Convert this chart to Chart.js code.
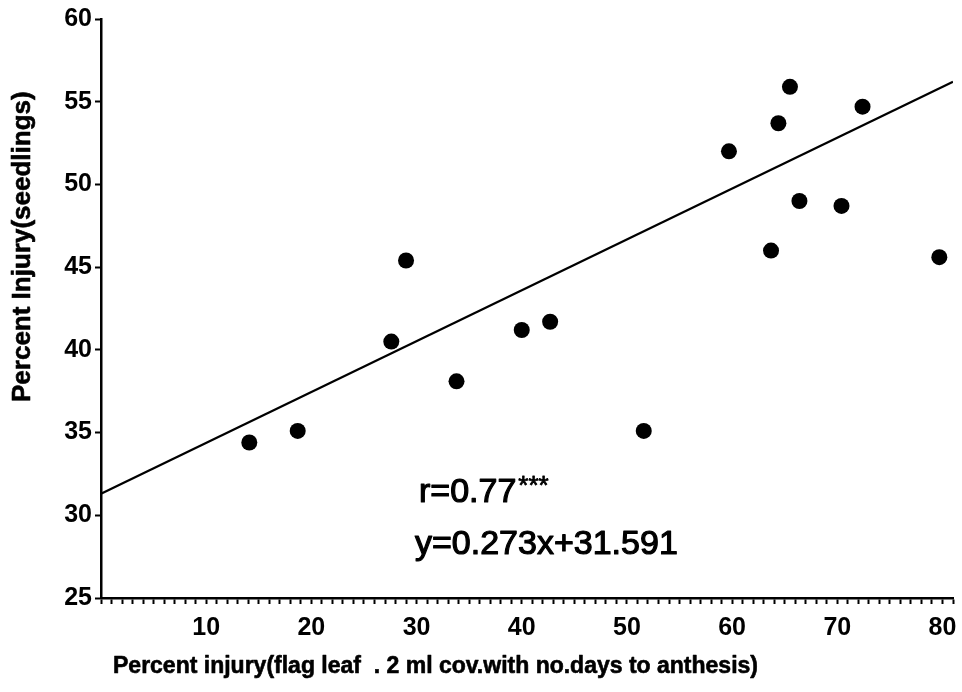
<!DOCTYPE html>
<html>
<head>
<meta charset="utf-8">
<title>Percent injury scatter</title>
<script src="https://cdn.jsdelivr.net/npm/chart.js@4.4.1/dist/chart.umd.min.js"></script>
<style>
  html, body { margin: 0; padding: 0; background: #fff; }
  canvas { display: block; }
</style>
</head>
<body>
<canvas id="injuryChart" width="962" height="692"></canvas>
<script>
// Percent injury: flag leaf (x) vs seedlings (y)
const flagLeafInjury = [14.1, 18.7, 27.6, 29.0, 33.8, 40.0, 42.7, 51.6, 59.7, 63.7, 64.4, 65.5, 66.4, 70.4, 72.4, 79.7];
const seedlingInjury = [34.4, 35.1, 40.5, 45.4, 38.1, 41.2, 41.7, 35.1, 52.0, 46.0, 53.7, 55.9, 49.0, 48.7, 54.7, 45.6];

// regression line as drawn in the figure
const fitLineX = [0, 81];
const fitLineY = [31.3, 56.2];

const xTickLabels = [10, 20, 30, 40, 50, 60, 70, 80];
const yTickLabels = [25, 30, 35, 40, 45, 50, 55, 60];

const xTitle = 'Percent injury(flag leaf  . 2 ml cov.with no.days to anthesis)';
const yTitle = 'Percent Injury(seedlings)';
const rText = 'r=0.77';
const rStars = '***';
const eqText = 'y=0.273x+31.591';

const FONT = '"Liberation Sans", Arial, Helvetica, sans-serif';

// slightly heavier text, like the scanned figure
function heavyText(c, str, x, y, w) {
  c.lineWidth = w;
  c.strokeText(str, x, y);
  c.fillText(str, x, y);
}

const textPlugin = {
  id: 'figureText',
  afterDraw(chart) {
    const c = chart.ctx;
    c.save();
    c.fillStyle = '#000';
    c.strokeStyle = '#000';
    c.lineJoin = 'round';

    // y axis title
    c.save();
    c.translate(30, 402);
    c.rotate(-Math.PI / 2);
    c.font = 'bold 26px ' + FONT;
    c.textAlign = 'left';
    c.textBaseline = 'alphabetic';
    heavyText(c, yTitle, 0, 0, 0.6);
    c.restore();

    // x axis title
    c.font = 'bold 23px ' + FONT;
    c.textAlign = 'left';
    c.textBaseline = 'alphabetic';
    heavyText(c, xTitle, 113, 673, 0.6);

    // correlation and equation
    c.font = '34px ' + FONT;
    heavyText(c, rText, 419, 502, 1.2);
    const rw = c.measureText(rText).width;
    c.font = '26px ' + FONT;
    heavyText(c, rStars, 419 + rw + 2, 494, 0.8);
    c.font = '34px ' + FONT;
    heavyText(c, eqText, 415, 554, 1.2);

    c.restore();
  }
};

function buildChart() {
  const ctx = document.getElementById('injuryChart');
  const points = flagLeafInjury.map((x, i) => ({ x, y: seedlingInjury[i] }));
  const fitLine = fitLineX.map((x, i) => ({ x, y: fitLineY[i] }));

  new Chart(ctx, {
    type: 'scatter',
    data: {
      datasets: [
        {
          type: 'line',
          data: fitLine,
          borderColor: '#000',
          borderWidth: 2.2,
          pointRadius: 0,
          fill: false,
          tension: 0,
        },
        {
          data: points,
          backgroundColor: '#000',
          borderColor: '#000',
          borderWidth: 0,
          pointRadius: 8,
          pointHoverRadius: 8,
        }
      ]
    },
    options: {
      responsive: false,
      animation: false,
      events: [],
      layout: { padding: { left: 0, top: 19, right: 7, bottom: 0 } },
      plugins: {
        legend: { display: false },
        tooltip: { enabled: false }
      },
      scales: {
        x: {
          type: 'linear',
          min: 0,
          max: 81,
          afterFit: (s) => { s.height = 94; },
          border: { color: '#000', width: 2.5 },
          grid: {
            drawOnChartArea: false,
            drawTicks: true,
            tickLength: 6,
            tickWidth: 2,
            color: '#000'
          },
          ticks: {
            stepSize: 1,
            autoSkip: false,
            maxRotation: 0,
            padding: 9,
            color: '#000',
            font: { family: FONT, size: 25, weight: 'bold' },
            callback: (val) => xTickLabels.includes(val) ? String(val) : ''
          }
        },
        y: {
          type: 'linear',
          min: 25,
          max: 60,
          afterFit: (s) => { s.width = 101; },
          border: { color: '#000', width: 2.5 },
          grid: {
            drawOnChartArea: false,
            drawTicks: true,
            tickLength: 6,
            tickWidth: 2,
            color: '#000'
          },
          ticks: {
            stepSize: 5,
            autoSkip: false,
            padding: 3,
            color: '#000',
            font: { family: FONT, size: 25, weight: 'bold' },
            callback: (val) => yTickLabels.includes(val) ? String(val) : ''
          }
        }
      }
    },
    plugins: [textPlugin]
  });
}

if (document.readyState === 'loading') {
  document.addEventListener('DOMContentLoaded', buildChart);
} else {
  buildChart();
}
</script>
</body>
</html>
